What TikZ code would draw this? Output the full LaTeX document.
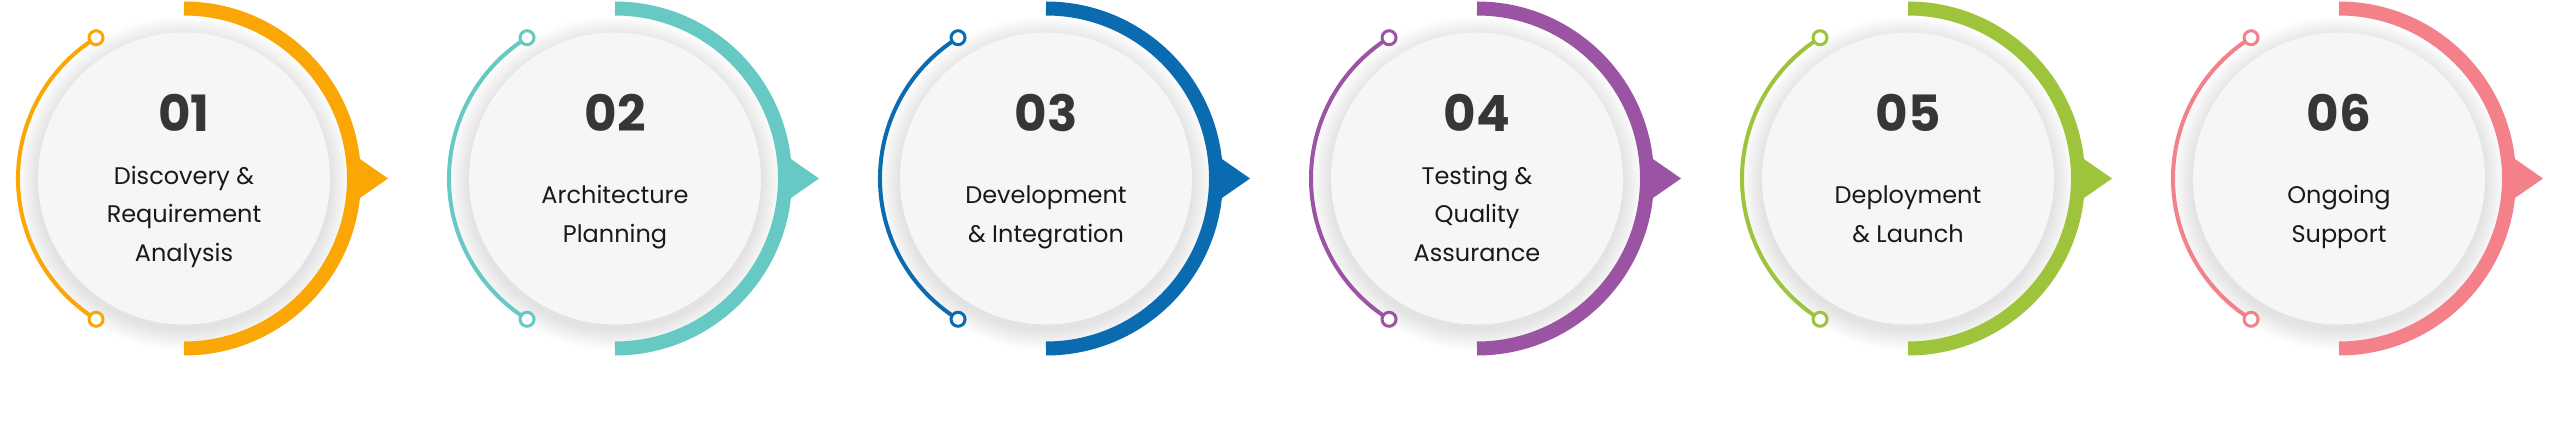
\documentclass[tikz,border=0pt]{standalone}
\usepackage{fontspec}
\newfontfamily\poppins{Poppins}
\usepackage{xcolor}
\usetikzlibrary{positioning}
\definecolor{orangeA}{HTML}{FAA604}
\definecolor{tealB}{HTML}{67C9C3}
\definecolor{blueC}{HTML}{0B6BB0}
\definecolor{purpleD}{HTML}{9B53A3}
\definecolor{greenE}{HTML}{9DC43A}
\definecolor{pinkF}{HTML}{F4808A}
\definecolor{discgray}{HTML}{F6F6F6}
\definecolor{numgray}{HTML}{363636}
\tikzset{
	disc/.style={circle,fill=discgray,minimum size=292pt,inner sep=0pt},
	num/.style={font=\poppins\bfseries\fontsize{50}{50}\selectfont,text=numgray,anchor=base},
	caption/.style={font=\poppins\fontsize{24}{38.5}\selectfont,align=center,text=black!90},
	band/.style={line width=14pt},
	wire/.style={line width=4pt},
	ring/.style={circle,draw,line width=3pt,fill=white,minimum size=14pt,inner sep=0pt}
}
% one phase: name, x, colour, number, caption
\newcommand{\phase}[5]{%
	\coordinate (#1) at (#2,258.5);
	\foreach \k in {1,...,14}
		\fill[black,opacity=.007] ([yshift=-5pt]#1) circle (146pt+\k*1.5pt);
	\node[disc] (#1d) at (#1) {};
	\draw[#3,band] ([yshift=170pt]#1) arc[start angle=90,end angle=-90,radius=170pt];
	\fill[#3] ([shift={(168pt,25pt)}]#1) -- ([shift={(204pt,0pt)}]#1) -- ([shift={(168pt,-25pt)}]#1) -- cycle;
	\draw[#3,wire] ([shift={(122:166pt)}]#1) arc[start angle=122,end angle=238,radius=166pt];
	\node[ring,draw=#3] (#1u) at ([shift={(122:166pt)}]#1) {};
	\node[ring,draw=#3] (#1l) at ([shift={(238:166pt)}]#1) {};
	\node[num] (#1n) at ([yshift=46.5pt]#1) {#4};
	\node[caption] (#1t) at ([yshift=-36.75pt]#1) {\strut #5\strut};
}
\begin{document}
\begin{tikzpicture}[x=1pt,y=1pt]
	\fill[white] (0,0) rectangle (2560,437);
	\useasboundingbox (0,0) rectangle (2560,437);
	%
	%  PHASES
	%
	\phase{s1}{184}{orangeA}{01}{Discovery \&\\Requirement\\Analysis}
	\phase{s2}{615}{tealB}{02}{Architecture\\Planning}
	\phase{s3}{1046}{blueC}{03}{Development\\\& Integration}
	\phase{s4}{1477}{purpleD}{04}{Testing \&\\Quality\\Assurance}
	\phase{s5}{1908}{greenE}{05}{Deployment\\\& Launch}
	\phase{s6}{2339}{pinkF}{06}{Ongoing\\Support}
\end{tikzpicture}
\end{document}
